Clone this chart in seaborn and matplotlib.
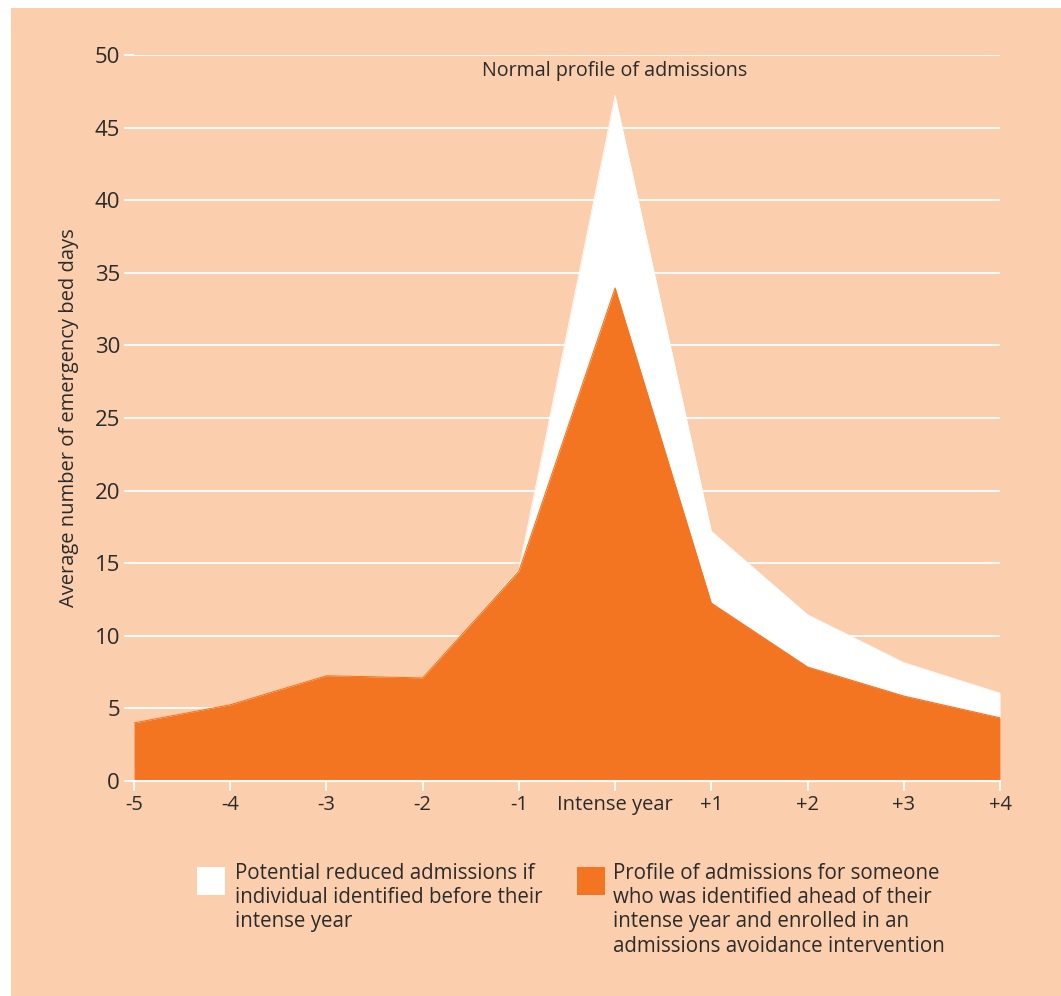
import matplotlib
matplotlib.use("Agg")
import matplotlib.pyplot as plt
import seaborn as sns
import pandas as pd
from matplotlib.patches import Rectangle

years = [-5, -4, -3, -2, -1, 0, 1, 2, 3, 4]
year_labels = ["-5", "-4", "-3", "-2", "-1", "Intense year", "+1", "+2", "+3", "+4"]
normal_profile = [4.0, 5.25, 7.25, 7.1, 14.55, 47.2, 17.2, 11.45, 8.15, 6.05]
intervention_profile = [4.0, 5.25, 7.25, 7.1, 14.45, 33.95, 12.25, 7.85, 5.85, 4.35]
y_ticks = [0, 5, 10, 15, 20, 25, 30, 35, 40, 45, 50]

PEACH = "#FBCFAE"
ORANGE = "#F37521"
TEXT = "#2B2B2B"

sns.set_theme(style="white")
plt.rcParams['font.family'] = ['Open Sans', 'DejaVu Sans']

df = pd.DataFrame({"year": years, "normal": normal_profile, "interv": intervention_profile})

fig = plt.figure(figsize=(10.61, 9.96), dpi=100)
fig.patch.set_facecolor("white")
fig.patches.append(Rectangle((11 / 1061, 0), 1 - 11 / 1061, 1 - 8 / 996,
                             transform=fig.transFigure, facecolor=PEACH,
                             edgecolor="none", zorder=-10))

ax = fig.add_axes([134 / 1061, 215 / 996, 866 / 1061, 726 / 996])
ax.set_facecolor("none")

ax.fill_between(df["year"], 0, df["normal"], color="white", linewidth=0, zorder=2)
ax.fill_between(df["year"], 0, df["interv"], color=ORANGE, linewidth=0, zorder=3)
sns.lineplot(data=df, x="year", y="normal", ax=ax, color="white", linewidth=0.6, zorder=2)
sns.lineplot(data=df, x="year", y="interv", ax=ax, color=ORANGE, linewidth=0.8, zorder=3)

ax.set_xlim(-5, 4)
ax.set_ylim(0, 50)
ax.set_yticks(y_ticks)
ax.set_yticklabels([str(v) for v in y_ticks], fontsize=16, color=TEXT)
ax.set_xticks(years)
ax.set_xticklabels(year_labels, fontsize=14.5, color=TEXT)
ax.grid(axis="y", color="white", linewidth=1.3, zorder=1)
ax.set_axisbelow(True)
for s in ["top", "right", "left"]:
    ax.spines[s].set_visible(False)
ax.spines["bottom"].set_color("white")
ax.spines["bottom"].set_linewidth(1.5)
ax.spines["bottom"].set_zorder(5)
ax.tick_params(axis="y", length=7, width=1.3, color="white", pad=3, left=True)
ax.tick_params(axis="x", length=7, width=1.3, color="white", pad=3, bottom=True, direction="out")

ax.set_xlabel("")
ax.set_ylabel("Average number of emergency bed days", fontsize=14.5, color=TEXT, labelpad=11)

ax.text(0, 48.2, "Normal profile of admissions", ha="center", va="bottom",
        fontsize=14.2, color=TEXT)

# legend
fig.patches.append(Rectangle((197 / 1061, 1 - 895 / 996), 28 / 1061, 28 / 996,
                             transform=fig.transFigure, facecolor="white", edgecolor="none"))
fig.patches.append(Rectangle((577 / 1061, 1 - 895 / 996), 28 / 1061, 28 / 996,
                             transform=fig.transFigure, facecolor=ORANGE, edgecolor="none"))
fig.text(235 / 1061, 1 - 863 / 996,
         "Potential reduced admissions if\nindividual identified before their\nintense year",
         ha="left", va="top", fontsize=14.8, color=TEXT, linespacing=1.2)
fig.text(613 / 1061, 1 - 863 / 996,
         "Profile of admissions for someone\nwho was identified ahead of their\nintense year and enrolled in an\nadmissions avoidance intervention",
         ha="left", va="top", fontsize=14.8, color=TEXT, linespacing=1.2)

fig.savefig("out.png", dpi=100, facecolor=fig.get_facecolor())
